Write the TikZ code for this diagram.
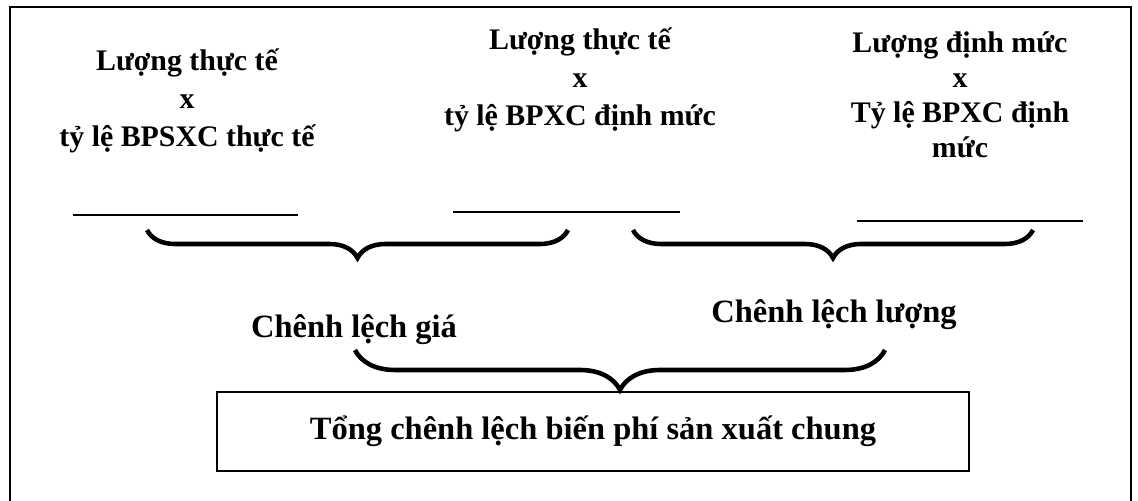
\documentclass[tikz,border=0pt]{standalone}
\usepackage{fontspec}
\setmainfont{Liberation Serif}
\usetikzlibrary{positioning,decorations.pathreplacing}

\begin{document}
\begin{tikzpicture}[
    x=0.02cm, y=0.02cm,
    term/.style={font=\fontsize{17}{21.6}\selectfont\bfseries, align=center, inner sep=0pt},
    variance/.style={font=\fontsize{18.5}{22}\selectfont\bfseries, inner sep=0pt},
    total/.style={rectangle, draw, line width=1.3pt, minimum width=15.04cm, minimum height=1.58cm,
                  font=\fontsize{18.5}{22}\selectfont\bfseries},
    underline/.style={line width=1.5pt},
    bracket/.style={line width=2.6pt, decorate, decoration={brace, mirror, amplitude=#1}}
]
\useasboundingbox (0,0) rectangle (1138,500);

% Frame round the whole scheme (open at the bottom)
\draw[line width=1.6pt] (10,-10) -- (10,493) -- (1131,493) -- (1131,-10);

% Three cost terms
\node[term] (actual) at (187,399) {Lượng thực tế\\x\\tỷ lệ BPSXC thực tế};
\node[term] (mixed) at (580,420) {Lượng thực tế\\x\\tỷ lệ BPXC định mức};
\node[term, font=\fontsize{17}{19.9}\selectfont\bfseries] (standard) at (960,405)
    {Lượng định mức\\x\\Tỷ lệ BPXC định\\mức};

% Blank result lines under each term
\coordinate (a1) at (73,285);  \coordinate (a2) at (298,285);
\coordinate (m1) at (453,288); \coordinate (m2) at (680,288);
\coordinate (s1) at (857,279); \coordinate (s2) at (1083,279);
\draw[underline] (a1) -- (a2);
\draw[underline] (m1) -- (m2);
\draw[underline] (s1) -- (s2);

% Braces joining neighbouring terms
\coordinate (p1) at (147,270); \coordinate (p2) at (568,270);
\coordinate (q1) at (633,270); \coordinate (q2) at (1033,270);
\draw[bracket=0.56cm] (p1) -- (p2);
\draw[bracket=0.56cm] (q1) -- (q2);

% Price and quantity variances
\node[variance] (price) at (354,170) {Chênh lệch giá};
\node[variance] (quantity) at (834,185) {Chênh lệch lượng};

% Total variance
\node[total] (sum) at (593,68.5) {Tổng chênh lệch biến phí sản xuất chung};
\coordinate (r1) at (355,150); \coordinate (r2) at (885,150);
\draw[bracket=0.8cm] (r1) -- (r2);

\end{tikzpicture}
\end{document}
